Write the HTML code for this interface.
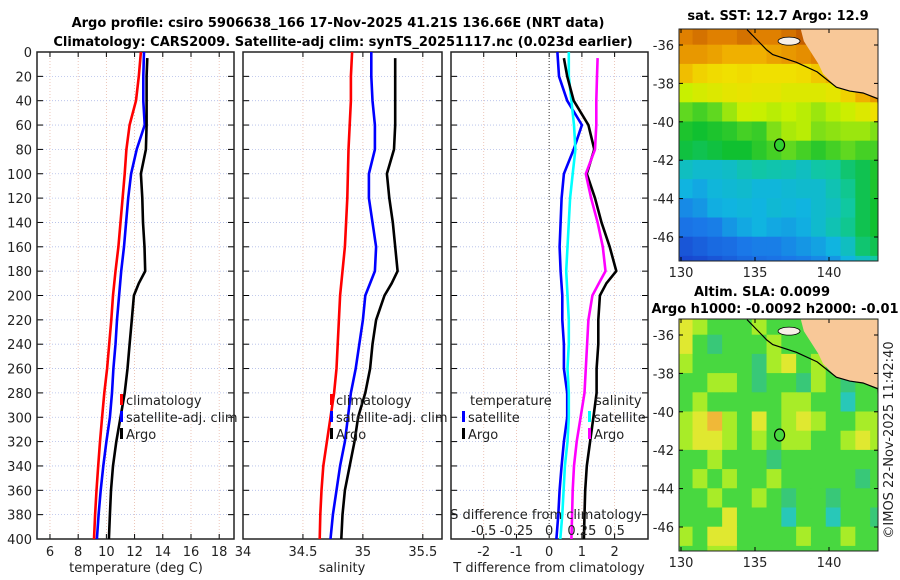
<!DOCTYPE html>
<html><head><meta charset="utf-8"><style>
body{margin:0;background:#fff;}
svg{display:block;font-family:"DejaVu Sans","Liberation Sans",sans-serif;}
</style></head><body>
<svg id="fig" width="900" height="580" viewBox="0 0 900 580" xmlns="http://www.w3.org/2000/svg">
<text x="338" y="27" text-anchor="middle" font-size="13" font-weight="bold">Argo profile: csiro 5906638_166 17-Nov-2025 41.21S 136.66E (NRT data)</text>
<text x="343" y="46" text-anchor="middle" font-size="13" font-weight="bold">Climatology: CARS2009. Satellite-adj clim: synTS_20251117.nc (0.023d earlier)</text>
<text x="778" y="20" text-anchor="middle" font-size="13" font-weight="bold">sat. SST: 12.7 Argo: 12.9</text>
<text x="762" y="296" text-anchor="middle" font-size="13" font-weight="bold">Altim. SLA: 0.0099</text>
<text x="775" y="313" text-anchor="middle" font-size="13" font-weight="bold">Argo h1000: -0.0092 h2000: -0.01</text>
<text transform="translate(893,440) rotate(-90)" text-anchor="middle" font-size="13" fill="#222">©IMOS 22-Nov-2025 11:42:40</text>
<g id="plots"></g>
</svg>
<script>
// ---- profile data (depth in m) ----
const climDepth=[0,20,40,60,80,100,120,140,160,180,200,220,240,260,280,300,320,340,360,380,400];
const climTemp=[12.45,12.3,12.1,11.65,11.42,11.3,11.15,11.0,10.85,10.65,10.47,10.35,10.2,10.05,9.85,9.7,9.55,9.42,9.3,9.2,9.12];
const satTemp=[12.67,12.62,12.62,12.72,12.15,11.75,11.55,11.4,11.25,11.05,10.9,10.75,10.65,10.5,10.4,10.25,10.0,9.78,9.6,9.45,9.33];
const argoDepth=[5,20,40,60,80,100,120,140,160,180,190,200,220,240,260,280,300,320,340,360,380,400];
const argoTemp=[12.9,12.85,12.85,12.85,12.8,12.45,12.55,12.6,12.7,12.75,12.3,11.95,11.8,11.65,11.5,11.3,11.0,10.7,10.47,10.33,10.25,10.18];
const climSal=[34.91,34.9,34.9,34.89,34.88,34.875,34.87,34.86,34.85,34.83,34.81,34.8,34.79,34.78,34.76,34.73,34.7,34.67,34.655,34.645,34.64];
const satSal=[35.07,35.07,35.08,35.1,35.1,35.05,35.05,35.08,35.11,35.1,35.02,35.0,34.97,34.94,34.9,34.875,34.85,34.81,34.78,34.75,34.73];
const argoSal=[35.27,35.27,35.27,35.27,35.26,35.2,35.22,35.25,35.27,35.29,35.24,35.18,35.11,35.08,35.06,35.02,34.96,34.93,34.89,34.85,34.83,34.82];
const satTdiff=[0.25,0.3,0.55,1.0,0.75,0.45,0.38,0.35,0.32,0.35,0.4,0.4,0.45,0.45,0.55,0.55,0.45,0.38,0.32,0.28,0.22];
const argoTdiff=[0.45,0.55,0.75,1.2,1.38,1.15,1.4,1.6,1.85,2.05,1.75,1.55,1.5,1.5,1.45,1.45,1.35,1.25,1.15,1.1,1.08,1.06];
const satSdiff=[0.15,0.15,0.17,0.19,0.2,0.18,0.16,0.15,0.14,0.13,0.14,0.15,0.15,0.14,0.15,0.15,0.14,0.12,0.11,0.1,0.085];
const argoSdiff=[0.37,0.365,0.36,0.36,0.35,0.28,0.32,0.37,0.41,0.43,0.38,0.33,0.3,0.29,0.28,0.27,0.24,0.21,0.19,0.18,0.175,0.17];
const depthTicks=[0,20,40,60,80,100,120,140,160,180,200,220,240,260,280,300,320,340,360,380,400];
const tempTicks=[6,8,10,12,14,16,18];
const salTicks=[34,34.5,35,35.5];
const tdiffTicks=[-2,-1,0,1,2];
const sdiffTicks=[-0.5,-0.25,0,0.25,0.5];
const mapLatTicks=[-36,-38,-40,-42,-44,-46];
const mapLonTicks=[130,135,140];
// ---- maps ----
const sstGrid=[
[16.5,16.8,16.5,16.5,16.8,16.5,16.5,16.8,17.2,17.5,17,17,17,17],
[16,16,15.8,15.5,15.5,15.5,15.8,16,16.2,16.5,16.5,16.5,16.5,16.5],
[15.2,14.8,14.6,14.5,14.6,14.5,14.5,14.5,14.6,15,15.5,16,16.5,16.5],
[13.5,13.8,14,14.2,14.3,14.2,14.2,14,14,14,14.2,14.8,15.5,16],
[12.8,12.6,12.8,13.2,13.6,13.5,13.4,13.5,13.4,13.2,13.4,13.6,14,14.5],
[12.3,12.2,12.3,12.4,12.6,12.5,13,13.3,13.4,13,13.1,13.2,13.2,13],
[12.1,12,12.1,12.2,12.2,12.4,12.6,12.8,12.6,12.4,12.6,12.8,12.6,12.6],
[11,10.8,10.8,10.9,11.2,11.4,11.3,11.2,11,11.4,11.5,11.8,12,12.3],
[10.5,10.3,10.6,10.7,10.8,10.6,10.6,10.7,10.8,10.8,11.2,11.6,12,12.3],
[9.8,10,10.4,10.5,10.6,10.5,10.7,10.6,10.5,10.8,11,11.5,12,12.2],
[9.4,9.5,9.6,10,10.3,10.5,10.3,10.2,10.4,10.8,11.2,11.6,12,12.2],
[8.8,9,9.2,9.3,9.5,9.6,9.6,9.8,10,10.2,10.5,11,11.8,12],
[8.5,8.6,8.8,9,9.2,9.3,9.4,9.5,9.6,9.8,10,10.5,11,11.5]];
const slaGrid=[
[2,1,0,0,0,1,0,0,0,0,0,0,0,0],
[2,0,-1,0,0,0,1,0,0,0,0,0,0,0],
[1,0,0,0,0,-1,1,2,0,1,0,0,0,0],
[0,0,1,1,0,-1,0,0,-1,1,0,-1,0,0],
[0,1,0,0,0,0,0,1,1,0,0,-2,0,0],
[1,2,3,1,0,2,0,1,2,1,0,0,1,1],
[1,2,2,1,0,1,0,1,1,0,0,1,2,1],
[0,0,1,0,0,0,-1,0,0,0,0,0,0,0],
[0,1,0,1,0,0,1,0,0,0,0,0,-1,0],
[0,0,1,0,0,1,0,-1,0,0,-1,0,0,0],
[0,0,0,2,0,0,0,-2,0,0,-2,0,0,-1],
[1,0,2,2,0,0,0,0,1,0,0,1,0,0],
[0,0,1,1,0,0,0,0,0,0,0,0,0,0]];
const coastLon=[134.46,135.8,136.2,137.8,139.2,140.5,141.4,142.3,143.3,143.4];
const coastLat=[-35.2,-36.26,-36.5,-36.9,-37.4,-38.2,-38.4,-38.5,-38.8,-40.4];
const landLon=[138.1,143.5,143.5,142.3,141.4,140.5,139.6,139.3,138.3];
const landLat=[-35.2,-35.2,-38.8,-38.5,-38.4,-38.2,-37.5,-37.0,-35.8];
const argoLon=136.66, argoLat=-41.21;

const NS='http://www.w3.org/2000/svg';
const root=document.getElementById('plots');
function mk(tag,attrs,parent,text){const e=document.createElementNS(NS,tag);for(const k in attrs)e.setAttribute(k,attrs[k]);if(text!==undefined)e.textContent=text;(parent||root).appendChild(e);return e;}
const Y0=52,Y1=539;
const yD=d=>Y0+(d/400)*(Y1-Y0);
function panel(name,x0,x1,xmin,xmax,ticks,showTickLabels){
  const sx=v=>x0+(v-xmin)/(xmax-xmin)*(x1-x0);
  const g=mk('g',{});
  
  
  ticks.forEach(t=>{const l=mk('line',{x1:sx(t),x2:sx(t),y1:Y0,y2:Y1,stroke:'#e8b8a8','stroke-width':0.8,'stroke-dasharray':'1,2'},g);
    
    mk('line',{x1:sx(t),x2:sx(t),y1:Y1,y2:Y1-5,stroke:'#000'},g);mk('line',{x1:sx(t),x2:sx(t),y1:Y0,y2:Y0+5,stroke:'#000'},g);
    if(showTickLabels){const tl=mk('text',{x:sx(t),y:Y1+17,'text-anchor':'middle','font-size':13,fill:'#222'},g,String(t));
    }});
  depthTicks.forEach(d=>{const l=mk('line',{x1:x0,x2:x1,y1:yD(d),y2:yD(d),stroke:'#b0bce8','stroke-width':0.8,'stroke-dasharray':'1,2'},g);
    
    mk('line',{x1:x0,x2:x0+6,y1:yD(d),y2:yD(d),stroke:'#000'},g);mk('line',{x1:x1,x2:x1-6,y1:yD(d),y2:yD(d),stroke:'#000'},g);});
  const fr=mk('rect',{x:x0,y:Y0,width:x1-x0,height:Y1-Y0,fill:'none',stroke:'#222','stroke-width':1.5},g);
  
  return {g,sx};
}
function line(p,vals,depths,color,name,sx){
  const f=sx||p.sx;
  const pts=vals.map((v,i)=>f(v).toFixed(1)+','+yD(depths[i]).toFixed(1)).join(' ');
  const l=mk('polyline',{points:pts,fill:'none',stroke:color,'stroke-width':2.6,'stroke-linejoin':'round'},p.g);
  
  
}
function legendItem(g,x,y,color,label,name){
  if(color)mk('rect',{x:x,y:y-11,width:3,height:11,fill:color},g);
  const t=mk('text',{x:x+6,y:y,'font-size':13,fill:'#222'},g,label);
  
  
}
depthTicks.forEach(d=>{const t=mk('text',{x:32,y:yD(d)+5,'text-anchor':'end','font-size':13,fill:'#222'},root,String(d));
  });
const p1=panel('temperature-panel',37,234,5.08,19.05,tempTicks,true);
line(p1,climTemp,climDepth,'#f00','temp-climatology-line');
line(p1,satTemp,climDepth,'#00f','temp-satellite-line');
line(p1,argoTemp,argoDepth,'#000','temp-argo-line');
legendItem(p1.g,120,405,'#f00','climatology','legend-climatology');
legendItem(p1.g,120,422,'#00f','satellite-adj. clim','legend-satellite');
legendItem(p1.g,120,439,'#000','Argo','legend-argo');
let t=mk('text',{x:136,y:572,'text-anchor':'middle','font-size':13,fill:'#222'},root,'temperature (deg C)');

const p2=panel('salinity-panel',243,442,34,35.66,salTicks,true);
line(p2,climSal,climDepth,'#f00','sal-climatology-line');
line(p2,satSal,climDepth,'#00f','sal-satellite-line');
line(p2,argoSal,argoDepth,'#000','sal-argo-line');
legendItem(p2.g,330,405,'#f00','climatology','legend-climatology');
legendItem(p2.g,330,422,'#00f','satellite-adj. clim','legend-satellite');
legendItem(p2.g,330,439,'#000','Argo','legend-argo');
t=mk('text',{x:342,y:572,'text-anchor':'middle','font-size':13,fill:'#222'},root,'salinity');

const p3=panel('difference-panel',451,648,-3.0,3.02,tdiffTicks,true);
const sS=v=>p3.sx(v*4);
mk('line',{x1:p3.sx(0),x2:p3.sx(0),y1:Y0,y2:Y1,stroke:'#555','stroke-width':1.2,'stroke-dasharray':'1,2'},p3.g);
line(p3,satTdiff,climDepth,'#00f','tdiff-satellite-line');
line(p3,satSdiff,climDepth,'#0ff','sdiff-satellite-line',sS);
line(p3,argoTdiff,argoDepth,'#000','tdiff-argo-line');
line(p3,argoSdiff,argoDepth,'#f0f','sdiff-argo-line',sS);
legendItem(p3.g,464,405,null,'temperature','legend-temperature-header');
legendItem(p3.g,462,422,'#00f','satellite','legend-tdiff-satellite');
legendItem(p3.g,462,439,'#000','Argo','legend-tdiff-argo');
legendItem(p3.g,589,405,null,'salinity','legend-salinity-header');
legendItem(p3.g,588,422,'#0ff','satellite','legend-sdiff-satellite');
legendItem(p3.g,588,439,'#f0f','Argo','legend-sdiff-argo');
t=mk('text',{x:546,y:519,'text-anchor':'middle','font-size':13,fill:'#222'},root,'S difference from climatology');

sdiffTicks.forEach(v=>{const l=mk('text',{x:sS(v),y:535,'text-anchor':'middle','font-size':13,fill:'#222'},root,String(v));
  });
t=mk('text',{x:549,y:572,'text-anchor':'middle','font-size':13,fill:'#222'},root,'T difference from climatology');


const sstStops=[[8.5,[24,72,208]],[9.5,[26,120,232]],[10.5,[16,180,224]],[11.5,[16,200,160]],[12.2,[16,192,48]],[12.8,[96,216,32]],[13.5,[200,240,0]],[14.5,[240,224,0]],[15.5,[240,176,0]],[16.5,[224,128,0]],[17.5,[184,80,0]]];
function cmap(v){if(v<=sstStops[0][0])return 'rgb('+sstStops[0][1]+')';
  for(let i=1;i<sstStops.length;i++){if(v<=sstStops[i][0]){const a=sstStops[i-1],b=sstStops[i],f=(v-a[0])/(b[0]-a[0]);
    return 'rgb('+a[1].map((c,k)=>Math.round(c+(b[1][k]-c)*f)).join(',')+')';}}
  return 'rgb('+sstStops[sstStops.length-1][1]+')';}
const slaColors={'-2':'#28c8b8','-1':'#38c878','0':'#48d840','1':'#a8ec28','2':'#e0e830','3':'#f0b838'};
function map(name,top,bottom,lat36y,grid,colorFn,circleFill){
  const mx0=679,mx1=878;
  const lx=lon=>681+(lon-130)*14.8;
  const ly=lat=>lat36y+(-36-lat)*19.2;
  const g=mk('g',{});
  
  
  const cid='clip-'+name;
  const cp=mk('clipPath',{id:cid},g);mk('rect',{x:mx0,y:top,width:mx1-mx0,height:bottom-top},cp);
  const inner=mk('g',{'clip-path':'url(#'+cid+')'},g);
  grid.forEach((row,i)=>row.forEach((v,j)=>{
    const r=mk('rect',{x:lx(129.8+j)-0.3,y:ly(-35-i)-0.3,width:14.8+0.6,height:19.2+0.6,fill:colorFn(v)},inner);
    
    
  }));
  const land=mk('polygon',{points:landLon.map((lo,i)=>lx(lo)+','+ly(landLat[i])).join(' '),fill:'#f8c898'},inner);
  
  const isl=mk('ellipse',{cx:lx(137.3),cy:ly(-35.8),rx:11,ry:4,fill:'#f8f0e8',stroke:'#000','stroke-width':0.8},inner);
  
  const cl=mk('polyline',{points:coastLon.map((lo,i)=>lx(lo)+','+ly(coastLat[i])).join(' '),fill:'none',stroke:'#000','stroke-width':1.2},inner);
  
  const c=mk('ellipse',{cx:lx(argoLon),cy:ly(argoLat),rx:5,ry:6,fill:circleFill,stroke:'#000','stroke-width':1.2},g);
  
  mk('rect',{x:mx0,y:top,width:mx1-mx0,height:bottom-top,fill:'none',stroke:'#222','stroke-width':1},g);
  mapLatTicks.forEach(la=>{mk('line',{x1:mx0,x2:mx0+4,y1:ly(la),y2:ly(la),stroke:'#000'},g);mk('line',{x1:mx1,x2:mx1-4,y1:ly(la),y2:ly(la),stroke:'#000'},g);
    const tl=mk('text',{x:674,y:ly(la)+5,'text-anchor':'end','font-size':13,fill:'#222'},g,String(la));
    });
  mapLonTicks.forEach(lo=>{mk('line',{x1:lx(lo),x2:lx(lo),y1:bottom,y2:bottom-4,stroke:'#000'},g);mk('line',{x1:lx(lo),x2:lx(lo),y1:top,y2:top+4,stroke:'#000'},g);
    const tl=mk('text',{x:lx(lo),y:bottom+16,'text-anchor':'middle','font-size':13,fill:'#222'},g,String(lo));
    });
}
map('sst-map',29,261,45,sstGrid,cmap,'#30d030');
map('sla-map',319,551,335,slaGrid,v=>slaColors[String(v)],'#48d840');
</script>
</body></html>
